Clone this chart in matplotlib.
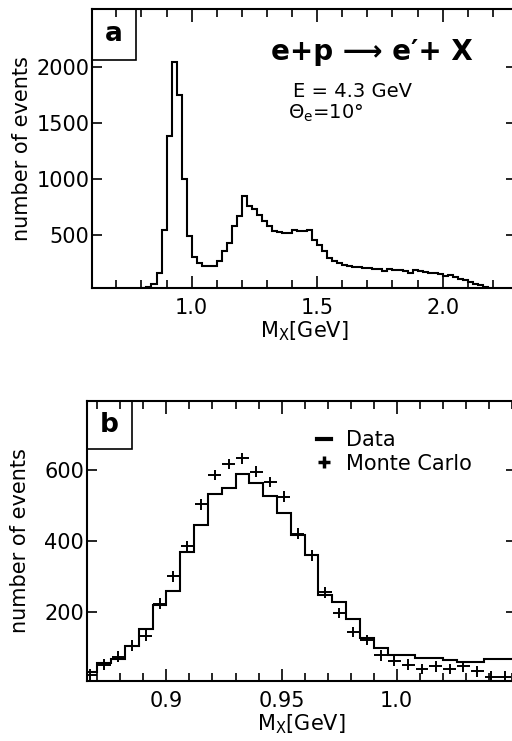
import numpy as np
import matplotlib
matplotlib.use("Agg")
import matplotlib.pyplot as plt
from matplotlib.lines import Line2D
from matplotlib.patches import Rectangle
from matplotlib.ticker import MultipleLocator, FixedLocator

plt.rcParams['font.family'] = ['DejaVu Sans']
plt.rcParams['mathtext.fontset'] = 'dejavusans'

# panel a: inclusive missing mass spectrum, bins of 0.02 GeV
a_start = 0.72
a_width = 0.02
a_counts = [3, 5, 8, 12, 18, 30, 55, 155, 545, 1384,
            2043, 1752, 994, 485, 296, 245, 221, 221, 221, 266,
            350, 425, 581, 664, 844, 754, 725, 680, 619, 574,
            530, 520, 517, 517, 538, 530, 530, 545, 455, 410,
            350, 290, 260, 245, 225, 215, 212, 209, 205, 200,
            195, 190, 175, 190, 185, 180, 178, 160, 185, 175,
            165, 160, 155, 150, 125, 140, 120, 105, 90, 75,
            60, 45, 30, 15]

# panel b: elastic peak, data histogram and Monte Carlo, bins of 0.006 GeV
b_start = 0.864
b_width = 0.006
b_data = [30, 56, 68, 106, 153, 219, 259, 370, 445, 534,
          549, 588, 564, 527, 480, 417, 360, 247, 228, 181,
          128, 99, 78, 80, 71, 72, 64, 60, 60, 69, 69]
b_mc = [24, 52, 75, 106, 134, 224, 301, 386, 504, 586,
        617, 633, 596, 567, 525, 421, 360, 256, 198, 144,
        122, 78, 62, 52, 40, 47, 40, 47, 33, 18, 18]

a_edges = a_start + a_width * np.arange(len(a_counts) + 1)
b_edges = b_start + b_width * np.arange(len(b_data) + 1)
b_centers = 0.5 * (b_edges[:-1] + b_edges[1:])

W, H = 512, 741
fig = plt.figure(figsize=(W / 100, H / 100), dpi=100)

def px_axes(l, t, r, b):
    return fig.add_axes([l / W, 1 - b / H, (r - l) / W, (b - t) / H])

def style(ax):
    for s in ax.spines.values():
        s.set_linewidth(1.5)
    ax.tick_params(which='both', direction='in', top=True, right=True,
                   width=1.2, labelsize=15, pad=7)
    ax.tick_params(which='major', length=9)
    ax.tick_params(which='minor', length=5.5)
    ax.tick_params(axis='y', which='major', length=7, pad=2)

# ---- panel a
ax1 = px_axes(92, 9, 516, 288)
ax1.stairs(a_counts, a_edges, color='black', lw=1.5, baseline=0)
ax1.set_xlim(0.603, 2.292)
ax1.set_ylim(22, 2520)
style(ax1)
ax1.xaxis.set_major_locator(FixedLocator([1.0, 1.5, 2.0]))
ax1.xaxis.set_minor_locator(MultipleLocator(0.1))
ax1.set_xticklabels(['1.0', '1.5', '2.0'])
ax1.set_yticks([500, 1000, 1500, 2000])
ax1.set_ylabel('number of events', fontsize=15, labelpad=3)
ax1.set_xlabel(r'M$_\mathrm{X}$[GeV]', fontsize=15, labelpad=1)
ax1.add_patch(Rectangle((0, 1), 0.104, -0.183, transform=ax1.transAxes,
                        fill=False, lw=1.2, clip_on=False))
ax1.text(0.052, 0.91, 'a', transform=ax1.transAxes, fontsize=19,
         fontweight='bold', ha='center', va='center')
ax1.text(0.66, 0.846, 'e+p \u27f6 e\u2032+ X', transform=ax1.transAxes,
         fontsize=20, fontweight='bold', ha='center', va='center')
ax1.text(0.474, 0.703, 'E = 4.3 GeV', transform=ax1.transAxes,
         fontsize=14, ha='left', va='center')
ax1.text(0.462, 0.627, '\u0398$_\\mathrm{e}$=10\u00b0', transform=ax1.transAxes,
         fontsize=14, ha='left', va='center')

# ---- panel b
ax2 = px_axes(87, 401, 516, 681)
ax2.stairs(b_data, b_edges, color='black', lw=1.5, baseline=None)
ax2.errorbar(b_centers, b_mc, fmt='none', xerr=0.0028, yerr=15,
             ecolor='black', elinewidth=1.4, capsize=0)
ax2.set_xlim(0.8655, 1.0518)
ax2.set_ylim(6, 795)
style(ax2)
ax2.xaxis.set_major_locator(FixedLocator([0.9, 0.95, 1.0]))
ax2.xaxis.set_minor_locator(MultipleLocator(0.01))
ax2.set_xticklabels(['0.9', '0.95', '1.0'])
ax2.set_yticks([200, 400, 600])
ax2.set_ylabel('number of events', fontsize=15, labelpad=10)
ax2.set_xlabel(r'M$_\mathrm{X}$[GeV]', fontsize=15, labelpad=1)
ax2.add_patch(Rectangle((0, 1), 0.105, -0.171, transform=ax2.transAxes,
                        fill=False, lw=1.2, clip_on=False))
ax2.text(0.052, 0.915, 'b', transform=ax2.transAxes, fontsize=19,
         fontweight='bold', ha='center', va='center')

handles = [Line2D([], [], color='black', lw=3),
           Line2D([], [], ls='none', marker='+', color='black', ms=9, mew=2.5)]
ax2.legend(handles, ['Data', 'Monte Carlo'], loc='upper left',
           bbox_to_anchor=(0.535, 0.895), frameon=False, fontsize=15,
           handlelength=0.7, handletextpad=0.7, borderpad=0,
           labelspacing=0.15, borderaxespad=0)

fig.savefig('out.png', dpi=100)
